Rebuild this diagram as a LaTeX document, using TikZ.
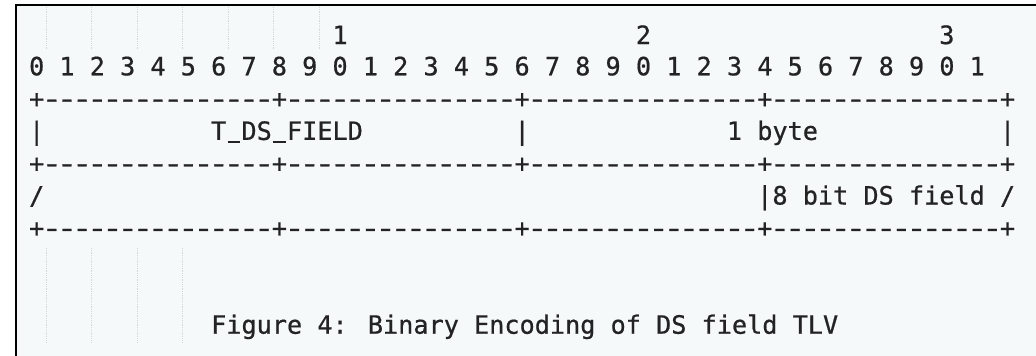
\documentclass[tikz,border=0pt]{standalone}
\usepackage{fontspec}
\usepackage{graphicx}
\newfontfamily\codefont{DejaVu Sans Mono}[FakeBold=0.7]
\definecolor{bgpanel}{HTML}{F5F9FA}
\definecolor{ink}{HTML}{232323}
\definecolor{guide}{HTML}{D4D8D9}
\newdimen\cw \cw=15.17pt
\newcommand\gap[1]{\hspace*{#1\cw}}
% underscore drawn as a rule in a character cell (as LaTeX's own \_ does)
\newcommand\us{\makebox[\cw][c]{\rule[-2.6pt]{12.5pt}{2pt}}}
\newcommand\dashglyph{\makebox[\cw][c]{\scalebox{1.38}[1]{-}}}
\ExplSyntaxOn
\NewDocumentCommand\dashrun{m}{\prg_replicate:nn{#1}{\dashglyph}}
\ExplSyntaxOff
\newcommand\rulerow{+\dashrun{15}+\dashrun{15}+\dashrun{15}+\dashrun{15}+}
\tikzset{
  row/.style={anchor=base west, inner sep=0pt, outer sep=0pt, text=ink,
    font=\codefont\fontsize{25.2}{30}\selectfont},
  guideline/.style={guide, line width=0.8pt, densely dotted},
  frame/.style={black, line width=2.2pt},
}
\begin{document}
\begin{tikzpicture}[x=1pt,y=-1pt]
\useasboundingbox (0,0) rectangle (1036,356);
\fill[bgpanel] (15,4) rectangle (1036,356);
\draw[frame] (15.9,356) -- (15.9,5.1) -- (1036,5.1);
% indentation guides
\foreach \k in {0,...,6} \draw[guideline] (46.1+45.51*\k,7) -- (46.1+45.51*\k,50);
\foreach \k in {0,...,3} \draw[guideline] (46.1+45.51*\k,248) -- (46.1+45.51*\k,342);
% rows of the ASCII diagram
\node[row] (tens)   at (29.1,44)    {\gap{20}1\gap{19}2\gap{19}3};
\node[row] (bits)   at (29.1,75.3)  {0 1 2 3 4 5 6 7 8 9 0 1 2 3 4 5 6 7 8 9 0 1 2 3 4 5 6 7 8 9 0 1};
\node[row] (rule1)  at (29.1,107.6) {\rulerow};
\node[row] (field1) at (29.1,139.9) {|\gap{11}T\us DS\us FIELD\gap{10}|\gap{13}1 byte\gap{12}|};
\node[row] (rule2)  at (29.1,172.2) {\rulerow};
\node[row] (field2) at (29.1,204.5) {/\gap{47}|8 bit DS field /};
\node[row] (rule3)  at (29.1,236.8) {\rulerow};
\node[row] (caption) at (29.1,333.7) {\gap{12}Figure 4: Binary Encoding of DS field TLV};
\end{tikzpicture}
\end{document}
